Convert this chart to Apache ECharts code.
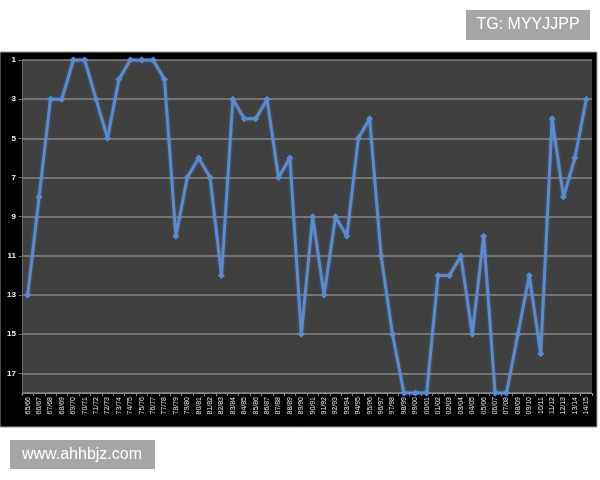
<!DOCTYPE html>
<html>
<head>
<meta charset="utf-8">
<script src="https://cdn.jsdelivr.net/npm/echarts@6/dist/echarts.min.js"></script>
<style>
  html, body { margin: 0; padding: 0; background: #fff; }
  #chart { width: 600px; height: 480px; }
</style>
</head>
<body>
<div id="chart"></div>
<script>
// seasons and final league position
const seasons = [
  '65/66', '66/67', '67/68', '68/69', '69/70', '70/71', '71/72', '72/73', '73/74', '74/75',
  '75/76', '76/77', '77/78', '78/79', '79/80', '80/81', '81/82', '82/83', '83/84', '84/85',
  '85/86', '86/87', '87/88', '88/89', '89/90', '90/91', '91/92', '92/93', '93/94', '94/95',
  '95/96', '96/97', '97/98', '98/99', '99/00', '00/01', '01/02', '02/03', '03/04', '04/05',
  '05/06', '06/07', '07/08', '08/09', '09/10', '10/11', '11/12', '12/13', '13/14', '14/15'
];
const positions = [
  13, 8, 3, 3, 1, 1, 3, 5, 2, 1,
  1, 1, 2, 10, 7, 6, 7, 12, 3, 4,
  4, 3, 7, 6, 15, 9, 13, 9, 10, 5,
  4, 11, 15, 18, 18, 18, 12, 12, 11, 15,
  10, 18, 18, 15, 12, 16, 4, 8, 6, 3
];
const yMin = 1;
const yMax = 18;
const yStep = 2;

const chart = echarts.init(document.getElementById('chart'));

const option = {
  backgroundColor: '#fff',
  animation: false,
  textStyle: { fontFamily: 'Liberation Sans, Arial, sans-serif' },
  graphic: [
    // black frame behind the plot
    {
      type: 'rect',
      z: -10,
      shape: { x: 0, y: 52, width: 597, height: 375 },
      style: { fill: '#000', stroke: '#9a9a9a', lineWidth: 1 }
    },
    {
      type: 'group',
      right: 10,
      top: 10,
      z: 100,
      children: [
        { type: 'rect', shape: { x: 0, y: 0, width: 124, height: 30 }, style: { fill: '#a6a6a6' } },
        {
          type: 'text', x: 62, y: 15,
          style: { text: 'TG: MYYJJPP', fill: '#fff', fontSize: 16, align: 'center', verticalAlign: 'middle',
                   fontFamily: 'Liberation Sans, Arial, sans-serif' }
        }
      ]
    },
    {
      type: 'group',
      left: 10,
      top: 440,
      z: 100,
      children: [
        { type: 'rect', shape: { x: 0, y: 0, width: 145, height: 29 }, style: { fill: '#a6a6a6' } },
        {
          type: 'text', x: 72, y: 15,
          style: { text: 'www.ahhbjz.com', fill: '#fff', fontSize: 16, align: 'center', verticalAlign: 'middle',
                   fontFamily: 'Liberation Sans, Arial, sans-serif' }
        }
      ]
    }
  ],
  grid: {
    left: 22,
    right: 8,
    top: 60,
    bottom: 87,
    show: true,
    backgroundColor: '#404040',
    borderWidth: 0
  },
  xAxis: {
    type: 'category',
    data: seasons,
    boundaryGap: true,
    axisLine: { lineStyle: { color: '#8a8a8a', width: 1 } },
    axisTick: { show: true, length: 3, lineStyle: { color: '#8a8a8a' } },
    axisLabel: {
      interval: 0,
      rotate: 90,
      fontSize: 7,
      color: '#e8e8e8',
      margin: 4
    },
    splitLine: { show: false }
  },
  yAxis: {
    type: 'value',
    inverse: true,
    min: yMin,
    max: yMax,
    interval: yStep,
    axisLine: { show: true, lineStyle: { color: '#6a6a6a' } },
    axisTick: { show: true, length: 3, lineStyle: { color: '#6a6a6a' } },
    axisLabel: {
      fontSize: 8,
      fontWeight: 'bold',
      color: '#f0f0f0',
      margin: 6,
      showMaxLabel: false,
      formatter: function (v) { return v === yMax ? '' : v; }
    },
    splitLine: { show: true, lineStyle: { color: '#858585', width: 1.5 } }
  },
  series: [
    {
      type: 'line',
      data: positions,
      symbol: 'diamond',
      symbolSize: 7,
      clip: false,
      lineStyle: { color: '#5a8bd0', width: 3, shadowColor: 'rgba(90,139,208,0.5)', shadowBlur: 3 },
      itemStyle: { color: '#5a8bd0' }
    }
  ]
};

chart.setOption(option);
</script>
</body>
</html>
